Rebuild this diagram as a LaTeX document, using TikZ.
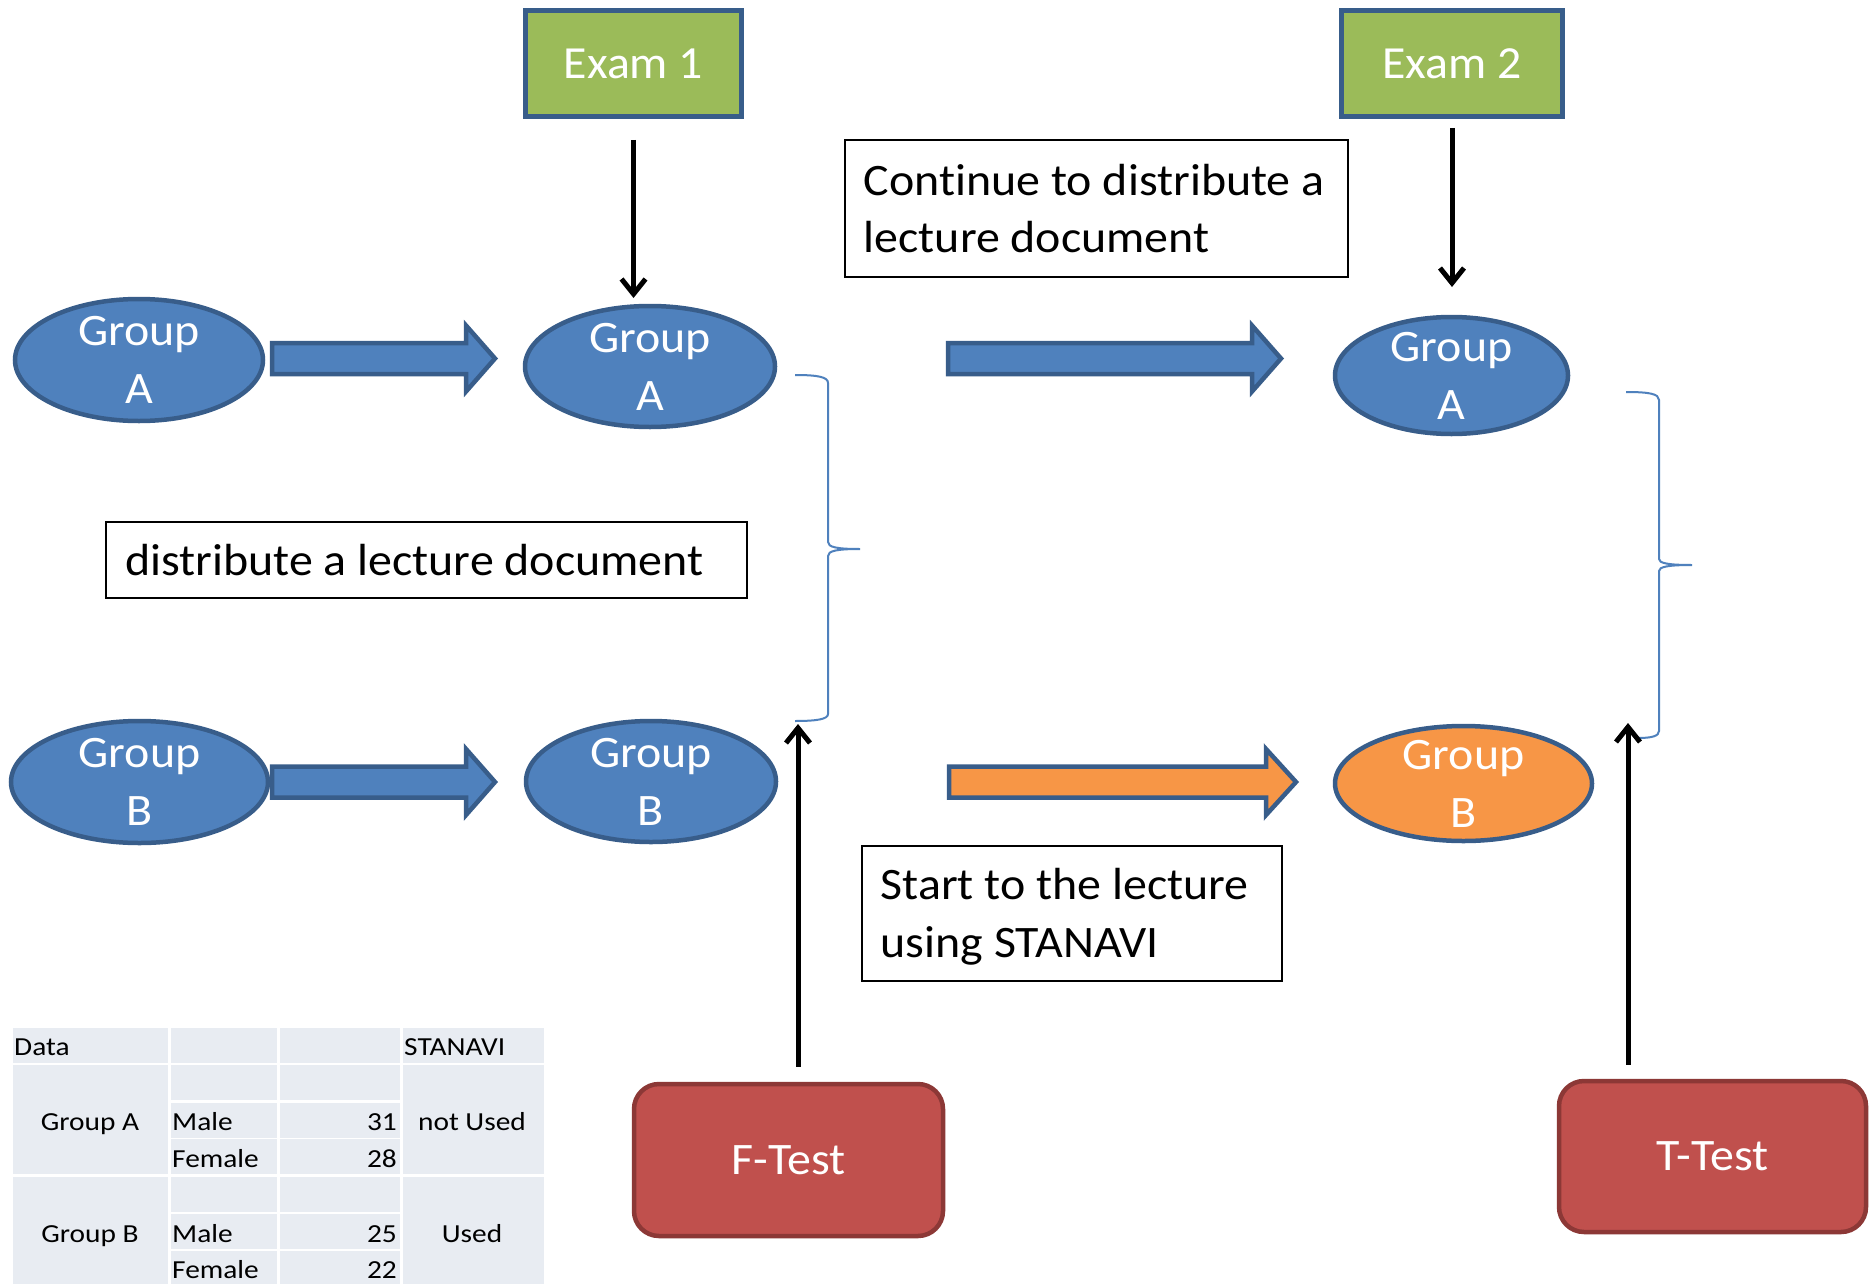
\documentclass[tikz,border=0pt]{standalone}
\usepackage{fontspec}
\setmainfont{Carlito}[FakeStretch=1.065, Ligatures=CommonOff]
\newfontfamily\examfont{Carlito}[FakeStretch=1.04, Ligatures=CommonOff]
\newfontfamily\tabfont{Carlito}[FakeStretch=1.13, Ligatures=CommonOff]
\usetikzlibrary{arrows.meta,shapes.geometric,calc}
\definecolor{bfill}{HTML}{4F81BD}
\definecolor{bline}{HTML}{385D8A}
\definecolor{gfill}{HTML}{9BBB59}
\definecolor{ofill}{HTML}{F79646}
\definecolor{rfill}{HTML}{C0504D}
\definecolor{rline}{HTML}{8C3836}
\definecolor{tfill}{RGB}{232,236,242}
\newcommand{\blockarr}[5]{%
  \draw[blk, fill=#5] (#1,{#4-15.5}) -- (#2,{#4-15.5}) -- (#2,{#4-33}) -- (#3,#4)
     -- (#2,{#4+33}) -- (#2,{#4+15.5}) -- (#1,{#4+15.5}) -- cycle;}
\begin{document}
\begin{tikzpicture}[x=1pt,y=-1pt,
  ell/.style={ellipse, draw=bline, line width=4.5pt, fill=bfill, inner sep=0pt},
  gtxt/.style={text=white, font=\fontsize{45}{58}\selectfont, align=center, inner sep=0pt},
  exambox/.style={rectangle, draw=bline, fill=gfill, line width=5pt, text=white,
     font=\examfont\fontsize{46}{55}\selectfont, inner sep=0pt},
  testbox/.style={rectangle, rounded corners=25pt, draw=rline, fill=rfill, line width=4.5pt,
     text=white, font=\fontsize{45}{55}\selectfont, inner sep=0pt},
  notebox/.style={rectangle, draw=black, line width=2pt, inner sep=0pt},
  notetxt/.style={align=left, font=\fontsize{45}{57.5}\selectfont, inner sep=0pt, anchor=west},
  arr/.style={line width=5pt, -{Straight Barb[length=15pt,width=24pt]}},
  blk/.style={draw=bline, line width=4.5pt, line join=miter},
  brace/.style={draw=bfill, line width=2pt},
  ttxt/.style={font=\tabfont\fontsize{26}{30}\selectfont, inner sep=0pt}
]
\useasboundingbox (0,0) rectangle (1870,1284);
\fill[white] (0,0) rectangle (1870,1284);

% exam boxes
\node[exambox, minimum width=216pt, minimum height=106pt] (ex1) at (633.5,63.5) {Exam 1};
\node[exambox, minimum width=221pt, minimum height=106pt] (ex2) at (1452,63.5) {Exam 2};

% group ellipses
\node[ell, minimum width=248pt, minimum height=122pt] (gA1) at (139,360) {};
\node[ell, minimum width=250pt, minimum height=121pt] (gA2) at (650,366.5) {};
\node[ell, minimum width=233pt, minimum height=117pt] (gA3) at (1451.5,375.5) {};
\node[ell, minimum width=257pt, minimum height=122pt] (gB1) at (139.5,782) {};
\node[ell, minimum width=250pt, minimum height=121pt] (gB2) at (651,781.5) {};
\node[ell, fill=ofill, minimum width=257pt, minimum height=115pt] (gB3) at (1463.5,783.5) {};
\node[gtxt] (tA1) at (gA1.center) {Group\\A};
\node[gtxt] (tA2) at (gA2.center) {Group\\A};
\node[gtxt] (tA3) at (gA3.center) {Group\\A};
\node[gtxt] (tB1) at (gB1.center) {Group\\B};
\node[gtxt] (tB2) at (gB2.center) {Group\\B};
\node[gtxt] (tB3) at (gB3.center) {Group\\B};

% block arrows
\blockarr{272}{466}{495}{358.5}{bfill}
\blockarr{948}{1252}{1281}{358.5}{bfill}
\blockarr{272}{466}{495}{782}{bfill}
\blockarr{949}{1266}{1296}{782}{ofill}

% note boxes
\node[notebox, minimum width=503pt, minimum height=136pt] (nC) at (1096,208.5) {};
\node[notetxt] (tC) at ([xshift=20pt]nC.west) {Continue to distribute a\\lecture document};
\node[notebox, minimum width=641pt, minimum height=76pt] (nD) at (426.5,560) {};
\node[notetxt] (tD) at ([xshift=20pt]nD.west) {distribute a lecture document};
\node[notebox, minimum width=420pt, minimum height=135pt] (nS) at (1071.5,913) {};
\node[notetxt, text depth=0pt] (tS) at ([xshift=20pt]nS.west) {Start to the lecture\\using STANAVI};

% test boxes
\node[testbox, minimum width=309pt, minimum height=152pt] (ft) at (788.5,1160) {F-Test};
\node[testbox, minimum width=307pt, minimum height=151pt] (tt) at (1712.5,1156.5) {T-Test};

% braces
\draw[brace] (795,375) .. controls (818,375) and (828,377) .. (828,383) -- (828,542)
  .. controls (828,547) and (836,549) .. (860,549) .. controls (836,549) and (828,551) .. (828,556)
  -- (828,714) .. controls (828,719) and (818,721) .. (795,721);
\draw[brace] (1626,392) .. controls (1650,392) and (1659,394) .. (1659,400) -- (1659,559)
  .. controls (1659,563) and (1667,565) .. (1692,565) .. controls (1667,565) and (1659,567) .. (1659,571)
  -- (1659,731) .. controls (1659,736) and (1652,738) .. (1638,738);
\coordinate (bl) at (798,724);
\coordinate (br) at (1628,723);

% black arrows
\draw[arr, shorten <=21pt] (ex1.south) -- (ex1.south |- 0,298);
\draw[arr, shorten <=9pt] (ex2.south) -- (ex2.south |- 0,287);
\draw[arr, shorten <=15pt] (ft.north -| bl) -- (bl);
\draw[arr, shorten <=14pt] (tt.north -| br) -- (br);

% table
\fill[tfill] (12.5,1028.3) rectangle (167.9,1062.7);
\fill[tfill] (170.7,1028.3) rectangle (277,1062.7);
\fill[tfill] (280,1028.3) rectangle (400,1062.7);
\fill[tfill] (403,1028.3) rectangle (543.6,1062.7);
\fill[tfill] (12.5,1065) rectangle (167.9,1174);
\fill[tfill] (403,1065) rectangle (543.6,1174);
\fill[tfill] (12.5,1176.7) rectangle (167.9,1284);
\fill[tfill] (403,1176.7) rectangle (543.6,1284);
\foreach \ya/\yb in {1065/1100,1102.7/1137.7,1139/1174,1176.7/1211.7,1214/1249,1251/1284}{
  \fill[tfill] (170.7,\ya) rectangle (277,\yb);
  \fill[tfill] (280,\ya) rectangle (400,\yb);
}
\node[ttxt, anchor=base west] (c00) at (14,1055) {Data};
\node[ttxt, anchor=base west] (c03) at (404,1055) {STANAVI};
\node[ttxt, anchor=base] (cgA) at (90,1130) {Group A};
\node[ttxt, anchor=base west] (cm1) at (172,1130) {Male};
\node[ttxt, anchor=base east] (cn1) at (397,1130) {31};
\node[ttxt, anchor=base] (cuA) at (472,1130) {not Used};
\node[ttxt, anchor=base west] (cf1) at (172,1167) {Female};
\node[ttxt, anchor=base east] (cn2) at (397,1167) {28};
\node[ttxt, anchor=base] (cgB) at (90,1242) {Group B};
\node[ttxt, anchor=base west] (cm2) at (172,1242) {Male};
\node[ttxt, anchor=base east] (cn3) at (397,1242) {25};
\node[ttxt, anchor=base] (cuB) at (472,1242) {Used};
\node[ttxt, anchor=base west] (cf2) at (172,1278) {Female};
\node[ttxt, anchor=base east] (cn4) at (397,1278) {22};
\end{tikzpicture}
\end{document}
